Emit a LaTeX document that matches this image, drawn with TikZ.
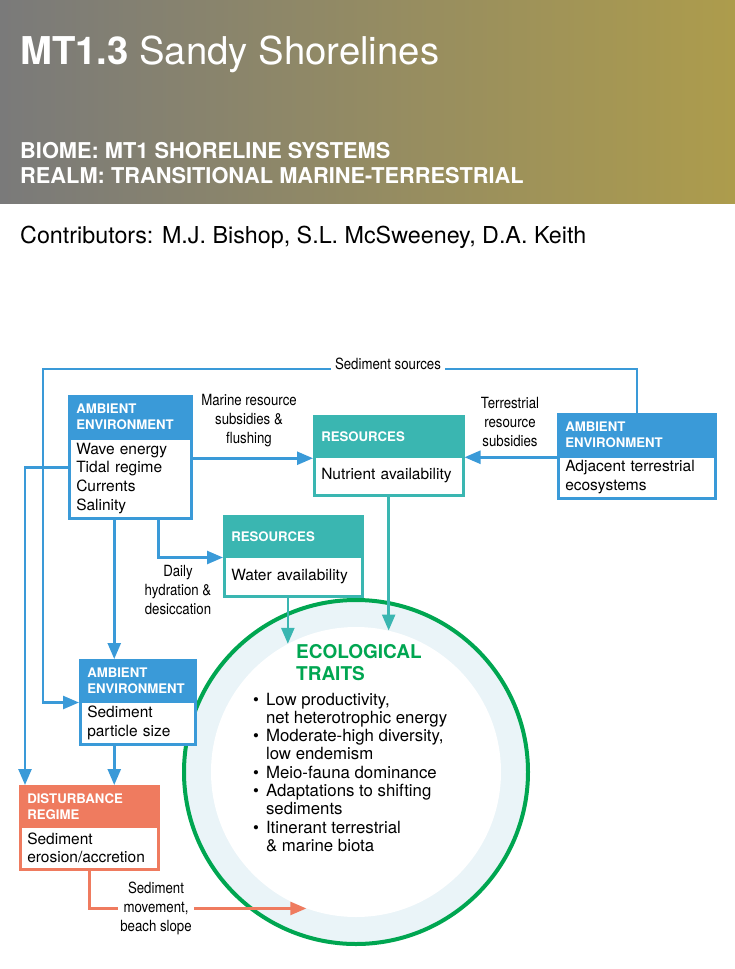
\documentclass[tikz,border=0pt]{standalone}
\usepackage{fontspec}
\setmainfont{TeX Gyre Heros}
\newfontfamily\condfont[FakeStretch=0.86]{TeX Gyre Heros}
\usetikzlibrary{arrows.meta}
\definecolor{hgray}{RGB}{122,122,122}
\definecolor{hgold}{RGB}{173,156,76}
\definecolor{ablue}{HTML}{3A9AD8}
\definecolor{rteal}{HTML}{3AB6B1}
\definecolor{dorange}{HTML}{EF7B5F}
\definecolor{egreen}{HTML}{00A651}
\definecolor{ringblue}{HTML}{EAF4F8}
\begin{document}
\begin{tikzpicture}[x=1pt,y=-1pt,
  hdr/.style={draw=#1, fill=#1, line width=2.5pt, anchor=north west, inner xsep=7pt, inner ysep=0pt, text=white, font=\fontsize{13.2}{16}\selectfont\bfseries, align=left},
  bdy/.style={draw=#1, fill=white, line width=2.5pt, anchor=north west, inner xsep=7pt, inner ysep=0pt, font=\fontsize{15.5}{18.7}\selectfont, align=left},
  conn/.style={draw=#1, line width=2.5pt, -{Triangle[length=16pt,width=13pt]}},
  lbl/.style={font=\condfont\fontsize{15.4}{19}\selectfont, align=center, inner sep=2pt},
  hdtext/.style={anchor=base west, inner sep=0pt, text=white},
]
\useasboundingbox (0,0) rectangle (735,969);
\shade[left color=hgray, right color=hgold] (0,0) rectangle (735,203);

\node[hdtext, font=\fontsize{38.3}{42}\selectfont] (title) at (20,64) {\textbf{MT1.3} Sandy Shorelines};
\node[hdtext, font=\fontsize{21.8}{25}\selectfont\bfseries] (biome) at (20,158) {BIOME: MT1 SHORELINE SYSTEMS};
\node[hdtext, font=\fontsize{21.8}{25}\selectfont\bfseries] (realm) at (20,183) {REALM: TRANSITIONAL MARINE-TERRESTRIAL};
\node[anchor=base west, inner sep=0pt, font=\fontsize{23.3}{26}\selectfont] (contrib) at (20,243) {Contributors: M.J. Bishop, S.L. McSweeney, D.A. Keith};

% circle
\node[circle, draw=egreen, line width=4pt, fill=ringblue, minimum size=344pt, inner sep=0pt] (eco) at (356,772) {};
\node[circle, fill=white, minimum size=290pt, inner sep=0pt] (inner) at (356,772) {};
\node[anchor=base west, inner sep=0pt, text=egreen, font=\fontsize{19}{22}\selectfont\bfseries] (ettl) at (296,658) {\begin{tabular}[t]{@{}l@{}}ECOLOGICAL\\TRAITS\end{tabular}};
\node[anchor=base west, inner sep=0pt, font=\fontsize{16.8}{18.3}\selectfont] (elist) at (253,705) {\begin{tabular}[t]{@{}l@{\hspace{7pt}}l@{}}
\textbullet & Low productivity,\\
 & net heterotrophic energy\\
\textbullet & Moderate-high diversity,\\
 & low endemism\\
\textbullet & Meio-fauna dominance\\
\textbullet & Adaptations to shifting\\
 & sediments\\
\textbullet & Itinerant terrestrial\\
 & \& marine biota\end{tabular}};

% boxes
\node[bdy=ablue, text width=108pt, minimum height=80pt] (a1) at (68,437) {Wave energy\\Tidal regime\\Currents\\Salinity};
\node[hdr=ablue, text width=108pt, minimum height=42pt] (a1h) at (68,395) {AMBIENT\\ENVIRONMENT};

\node[bdy=rteal, text width=135pt, minimum height=39pt] (r1) at (313,455) {Nutrient availability};
\node[hdr=rteal, text width=135pt, minimum height=40pt] (r1h) at (313,415) {RESOURCES};

\node[bdy=ablue, text width=143pt, minimum height=42pt] (a2) at (557,455) {Adjacent terrestrial\\ecosystems};
\node[hdr=ablue, text width=143pt, minimum height=42pt] (a2h) at (557,413) {AMBIENT\\ENVIRONMENT};

\node[bdy=rteal, text width=124pt, minimum height=40pt] (r2) at (223,555) {Water availability};
\node[hdr=rteal, text width=124pt, minimum height=40pt] (r2h) at (223,515) {RESOURCES};

\node[bdy=ablue, text width=101pt, minimum height=43pt] (a3) at (79,700) {Sediment\\particle size};
\node[hdr=ablue, text width=101pt, minimum height=41pt] (a3h) at (79,659) {AMBIENT\\ENVIRONMENT};

\node[bdy=dorange, text width=124pt, minimum height=43pt] (d) at (19,825) {Sediment\\erosion/accretion};
\node[hdr=dorange, text width=124pt, minimum height=40pt] (dh) at (19,785) {DISTURBANCE\\REGIME};

% connectors
\coordinate (ss) at (43,369);
\draw[conn=ablue] (a2h.north) |- (ss) |- (a3h.south west);
\draw[conn=ablue] ([yshift=11pt]a1.west) -| ([xshift=6pt]dh.north west);
\draw[conn=ablue] ([yshift=20pt]a1.east) -- ([yshift=20pt]a1.east -| r1.west);
\draw[conn=ablue] ([yshift=20pt]a2.west) -- ([yshift=20pt]a2.west -| r1.east);
\draw[conn=ablue] ([xshift=-16pt]a1.south) -- ([xshift=-16pt]a1.south |- a3h.north);
\draw[conn=ablue] ([xshift=28pt]a1.south) |- (r2h.south west);
\draw[conn=ablue] ([xshift=-23.5pt]a3.south) -- ([xshift=-23.5pt]a3.south |- dh.north);
\draw[conn=rteal] (inner.118.2 |- r2.south) -- (inner.118.2);
\draw[conn=rteal] (inner.77.5 |- r1.south) -- (inner.77.5);
\draw[conn=dorange] (d.south) |- (inner.250);

% labels
\node[lbl, fill=white, inner xsep=4pt] (lss) at (388,364) {Sediment sources};
\node[lbl] (lmar) at (249,421) {Marine resource\\subsidies \&\\flushing};
\node[lbl] (lter) at (510,422) {Terrestrial\\resource\\subsidies};
\node[lbl] (ldaily) at (178,590) {Daily\\hydration \&\\desiccation};
\node[lbl, fill=white] (lsed) at (156,908) {Sediment\\movement,\\beach slope};
\end{tikzpicture}
\end{document}
